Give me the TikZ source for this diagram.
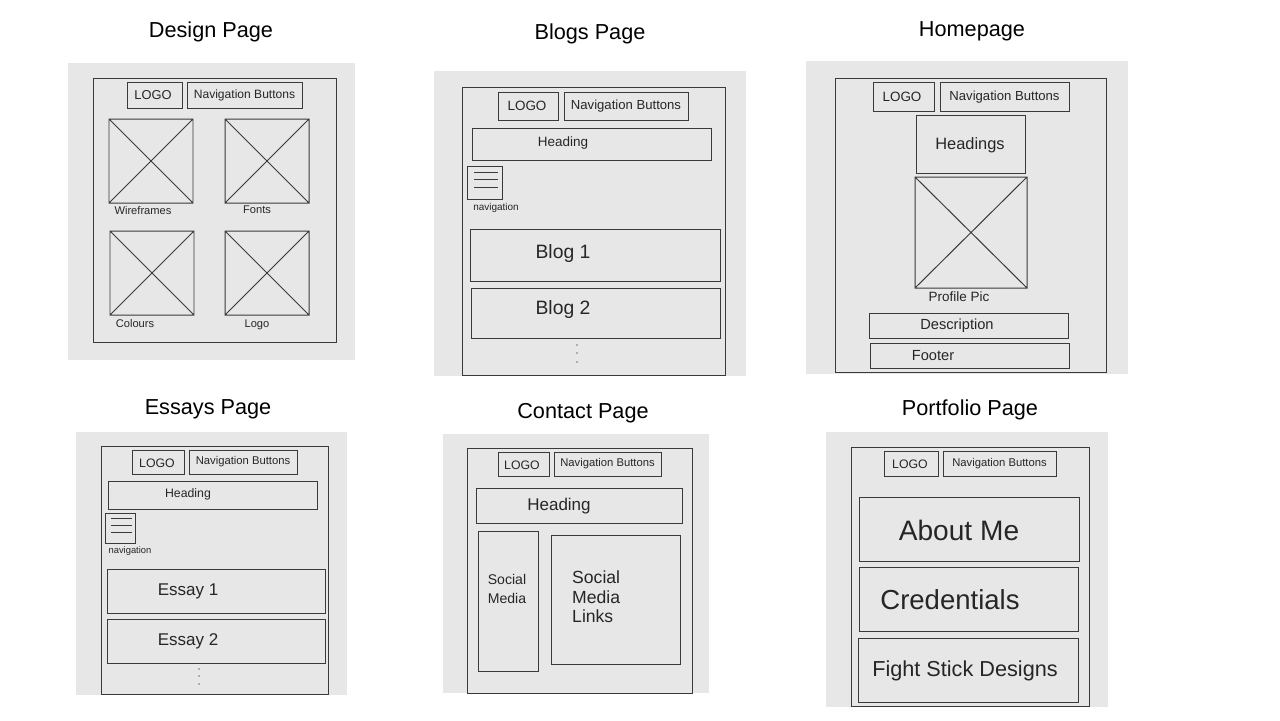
\documentclass[tikz,border=0pt]{standalone}
\usepackage{fontspec}
\setmainfont{Liberation Sans}
\usepackage{tikz}
\usetikzlibrary{positioning}

\definecolor{sheetgray}{HTML}{E7E7E7}
\definecolor{inkgray}{HTML}{3A3A3A}
\newcommand{\fsz}[1]{\fontsize{#1}{#1}\selectfont}
% crossed image placeholder
\newcommand{\crossbox}[4]{\draw[wire] (#1,#2) rectangle (#3,#4) (#1,#2) -- (#3,#4) (#1,#4) -- (#3,#2);}

\begin{document}
\begin{tikzpicture}[
  x=0.03cm, y=-0.03cm,
  sheet/.style={fill=sheetgray, draw=none},
  wire/.style={draw=inkgray, line width=0.85pt},
  title/.style={font=\fontsize{18.5}{22}\selectfont, inner sep=0pt},
  hand/.style={font=\fsz{#1}, inner sep=0pt, text=black!85},
  dot/.style={fill=inkgray!70, draw=none},
]
\useasboundingbox (0,0) rectangle (1280,720);

% Design Page
\node[title] (design) at (211,32) {Design Page};
\fill[sheet] (68,63) rectangle (355,360);
\draw[wire] (93,78) rectangle (336,342);
\draw[wire] (127,82) rectangle (182,108) (187,82) rectangle (302,108);
\node[hand=11] (d-logo) at (153,95) {LOGO};
\node[hand=10.3] (d-nav) at (244.5,95) {Navigation Buttons};
\crossbox{109}{119}{193}{203}
\crossbox{225}{119}{309}{203}
\crossbox{110}{231}{194}{315}
\crossbox{225}{231}{309}{315}
\node[hand=9.5] (d-wire) at (143,211) {Wireframes};
\node[hand=9.5] (d-fonts) at (257,210) {Fonts};
\node[hand=9.5] (d-col) at (135,324) {Colours};
\node[hand=9.5] (d-logo2) at (257,325) {Logo};

% Blogs Page
\node[title] (blogs) at (590,34) {Blogs Page};
\fill[sheet] (434,71) rectangle (746,376);
\draw[wire] (462,87) rectangle (725,375);
\draw[wire] (498,92) rectangle (558,120) (564,92) rectangle (688,120);
\node[hand=11.5] (b-logo) at (527,106) {LOGO};
\node[hand=11.2] (b-nav) at (626,106) {Navigation Buttons};
\draw[wire] (472,128) rectangle (711,160);
\node[hand=11.5] (b-head) at (563,143) {Heading};
\draw[wire] (467,166) rectangle (502,199);
\draw[wire] (474,172) -- (498,172) (474,179) -- (498,179) (474,187) -- (498,187);
\node[hand=8.5] (b-navi) at (496,208) {navigation};
\draw[wire] (470,229) rectangle (720,281) (471,288) rectangle (720,338);
\node[hand=16.5] (b-one) at (563,253) {Blog 1};
\node[hand=16.5] (b-two) at (563,309) {Blog 2};
\foreach \y in {345,353,362} \fill[dot] (577,\y) circle (0.8);

% Homepage
\node[title] (home) at (972,31) {Homepage};
\fill[sheet] (806,61) rectangle (1128,374);
\draw[wire] (835,78) rectangle (1106,372);
\draw[wire] (873,82) rectangle (934,111) (940,82) rectangle (1069,111);
\node[hand=11.5] (h-logo) at (902,97) {LOGO};
\node[hand=11.2] (h-nav) at (1004.5,97) {Navigation Buttons};
\draw[wire] (916,115) rectangle (1025,173);
\node[hand=14] (h-head) at (970,145) {Headings};
\crossbox{915}{177}{1027}{288}
\node[hand=11.5] (h-pic) at (959,297) {Profile Pic};
\draw[wire] (869,313) rectangle (1068,338) (870,343) rectangle (1069,368);
\node[hand=12.5] (h-desc) at (957,326) {Description};
\node[hand=12.5] (h-foot) at (933,356) {Footer};

% Essays Page
\node[title] (essays) at (208,409) {Essays Page};
\fill[sheet] (76,432) rectangle (347,695);
\draw[wire] (101,446) rectangle (328,694);
\draw[wire] (132,450) rectangle (184,474) (189,450) rectangle (297,474);
\node[hand=10.5] (e-logo) at (157,463) {LOGO};
\node[hand=9.6] (e-nav) at (243,462) {Navigation Buttons};
\draw[wire] (108,481) rectangle (317,509);
\node[hand=10.5] (e-head) at (188,494) {Heading};
\draw[wire] (105,513) rectangle (135,543);
\draw[wire] (111,518) -- (132,518) (111,525) -- (132,525) (111,532) -- (132,532);
\node[hand=8] (e-navi) at (130,551) {navigation};
\draw[wire] (107,569) rectangle (325,613) (107,619) rectangle (325,663);
\node[hand=14.5] (e-one) at (188,591) {Essay 1};
\node[hand=14.5] (e-two) at (188,641) {Essay 2};
\foreach \y in {669,676,684} \fill[dot] (199,\y) circle (0.8);

% Contact Page
\node[title] (contact) at (583,413) {Contact Page};
\fill[sheet] (443,434) rectangle (709,693);
\draw[wire] (467,448) rectangle (692,693);
\draw[wire] (498,452) rectangle (549,476) (554,452) rectangle (661,476);
\node[hand=10.5] (c-logo) at (522,465) {LOGO};
\node[hand=9.6] (c-nav) at (607.5,464) {Navigation Buttons};
\draw[wire] (476,488) rectangle (682,523);
\node[hand=14.5] (c-head) at (559,506) {Heading};
\draw[wire] (478,531) rectangle (538,671) (551,535) rectangle (680,664);
\node[hand=12, align=left, font=\fontsize{12}{16}\selectfont] (c-soc) at (507,589) {Social\\Media};
\node[hand=15, align=left, font=\fontsize{15}{16.5}\selectfont, anchor=west] (c-links) at (572,597) {Social\\Media\\Links};

% Portfolio Page
\node[title] (portfolio) at (970,410) {Portfolio Page};
\fill[sheet] (826,432) rectangle (1108,707);
\draw[wire] (851,447) rectangle (1089,706);
\draw[wire] (884,451) rectangle (938,476) (943,451) rectangle (1056,476);
\node[hand=10.5] (p-logo) at (910,464) {LOGO};
\node[hand=9.6] (p-nav) at (999.5,464) {Navigation Buttons};
\draw[wire] (859,497) rectangle (1079,561) (859,567) rectangle (1078,631) (858,638) rectangle (1078,702);
\node[hand=24] (p-about) at (959,530) {About Me};
\node[hand=23.5] (p-cred) at (950,600) {Credentials};
\node[hand=18.5] (p-fight) at (965,671) {Fight Stick Designs};
\end{tikzpicture}
\end{document}
